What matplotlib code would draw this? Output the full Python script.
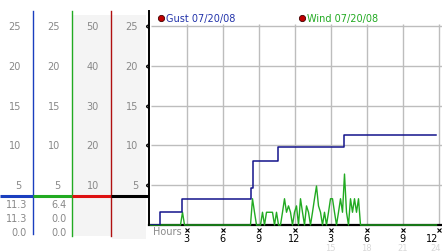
import numpy as np
import matplotlib
matplotlib.use("Agg")
import matplotlib.pyplot as plt
from matplotlib.patches import Rectangle

# ---------------- data ----------------
gust_hours = [0, 0.75, 2.6, 8.4, 8.55, 10.6, 16.1, 23.8]
gust_values = [0, 1.6, 3.3, 4.6, 8.1, 9.8, 11.3, 11.3]

wind_step = 1 / 6  # hours between wind samples
wind_values = (
    [0] * 16 + [1.6] + [0] * 34 +
    [3.3, 1.6, 0, 0, 0, 1.6, 0, 1.6, 1.6, 1.6, 1.6, 0, 1.6, 0, 0, 1.6,
     3.3, 1.6, 2.4, 1.6, 0, 1.6, 2.4, 0, 3.3, 1.6, 0, 2.4, 1.6, 0, 1.6,
     3.3, 4.9, 2.4, 1.6, 0, 1.6, 0, 1.6, 3.3, 3.3, 1.6, 0, 1.6, 3.3, 1.6,
     6.4, 1.6, 0, 3.3, 1.6, 3.3, 1.6, 3.3] +
    [0] * 39
)
wind_hours = [i * wind_step for i in range(len(wind_values))]

x_ticks = [3, 6, 9, 12, 15, 18, 21, 24]
x_tick_labels = ["3", "6", "9", "12", "3", "6", "9", "12"]
x_sub_ticks = [15, 18, 21, 24]
x_sub_labels = ["15", "18", "21", "24"]
y_ticks = [5, 10, 15, 20, 25]
scale_gust = ["5", "10", "15", "20", "25"]
scale_wind = ["5", "10", "15", "20", "25"]
scale_third = ["10", "20", "30", "40", "50"]
scale_main = ["5", "10", "15", "20", "25"]
gust_readouts = ["11.3", "11.3", "0.0"]
wind_readouts = ["6.4", "0.0", "0.0"]
legend_labels = ["Gust 07/20/08", "Wind 07/20/08"]
marker_level = 3.6

# ---------------- layout ----------------
W, H = 442, 253
PXU = 7.96  # pixels per unit on the y scale
X0 = 150.5  # pixel column of hour 0
fig = plt.figure(figsize=(W / 100, H / 100), dpi=100)
fig.patch.set_facecolor("white")

def fr(x0, y0, x1, y1):
    return [x0 / W, 1 - y1 / H, (x1 - x0) / W, (y1 - y0) / H]

def yv(py):  # pixel row -> data value
    return (226 - py) / PXU

def xv(px):  # pixel column -> hours
    return (px - X0) / 12

YTOP = yv(12)

# main axes
ax = fig.add_axes(fr(149, 12, 442, 226))
ax.set_xlim(xv(149), xv(442))
ax.set_ylim(0, YTOP)
ax.set_facecolor("white")
for s in ["top", "right"]:
    ax.spines[s].set_visible(False)
ax.spines["left"].set_color("black")
ax.spines["left"].set_linewidth(1.4)
ax.spines["bottom"].set_color("black")
ax.spines["bottom"].set_linewidth(1.6)
ax.set_yticks([])
ax.set_xticks(x_ticks, x_tick_labels, fontsize=7, color="black")
ax.tick_params(axis="x", length=0, pad=5.5)
ax.get_xticklabels()[-1].set_horizontalalignment("right")
ax.get_xticklabels()[-1].set_x(24.25)

grid_c = "#bdbdbd"
ax.hlines(y_ticks, 0, xv(442), colors=grid_c, lw=1, zorder=1)
ax.vlines(x_ticks, 0, yv(25), colors=grid_c, lw=1, zorder=1)

# tick glyphs
ax.plot([xv(146)] * len(y_ticks), y_ticks, ls="none", marker="x", ms=3,
        mew=0.8, color="black", clip_on=False, zorder=5)
ax.plot(x_ticks, [yv(230.5)] * len(x_ticks), ls="none", marker="x", ms=3,
        mew=0.8, color="black", clip_on=False, zorder=5)

for h, lab in zip(x_sub_ticks, x_sub_labels):
    last = lab == x_sub_labels[-1]
    ax.text(xv(441) if last else h, yv(248.5), lab, fontsize=6,
            color="#d8d8d8", ha="right" if last else "center",
            va="center", clip_on=False)
ax.text(xv(153), yv(232), "Hours", fontsize=7, color="#8a8a8a", ha="left",
        va="center", clip_on=False)

# series
ax.plot(wind_hours, wind_values, color="#22aa22", lw=1, zorder=3,
        clip_on=False)
ax.plot(gust_hours, gust_values, color="#14148c", lw=1.1,
        drawstyle="steps-post", zorder=4)

# legend
ax.plot([xv(161), xv(302)], [yv(19.5)] * 2, ls="none", marker="o", ms=4.5,
        mfc="#c00000", mec="#400000", mew=0.6, clip_on=False, zorder=6)
ax.text(xv(166), yv(19.5), legend_labels[0], fontsize=7, color="#2233aa",
        ha="left", va="center", clip_on=False)
ax.text(xv(307), yv(19.5), legend_labels[1], fontsize=7, color="#22aa22",
        ha="left", va="center", clip_on=False)

# left scale panel
axl = fig.add_axes(fr(0, 12, 149, 226))
axl.set_xlim(0, 149)
axl.set_ylim(0, YTOP)
axl.axis("off")

axl.add_patch(Rectangle((72, yv(237)), 39, yv(16) - yv(237),
                        facecolor="#f4f4f4", edgecolor="none",
                        clip_on=False, zorder=0))
axl.add_patch(Rectangle((112, yv(240)), 34, yv(16) - yv(240),
                        facecolor="#f4f4f4", edgecolor="none",
                        clip_on=False, zorder=0))

cols = [(33, "#1a3fbf", 235), (72, "#22aa22", 237), (111, "#b01010", 237)]
for x, c, bot in cols:
    axl.plot([x, x], [YTOP, yv(bot)], color=c, lw=1, clip_on=False, zorder=2)

seg = [(0, 33, "#1a3fbf"), (33, 72, "#22aa22"), (72, 111, "#dd1111"),
       (111, 149, "black")]
for x0, x1, c in seg:
    axl.plot([x0, x1], [marker_level] * 2, color=c, lw=2.2,
             solid_capstyle="butt", clip_on=False, zorder=3)

lab_c = "#888888"
for labels, xr in [(scale_gust, 21), (scale_wind, 60), (scale_third, 99),
                   (scale_main, 138)]:
    for y, lab in zip(y_ticks, labels):
        axl.text(xr, y, lab, fontsize=7, color=lab_c, ha="right",
                 va="center", clip_on=False)

rows = [yv(205), yv(219), yv(233)]
for y, lab in zip(rows, gust_readouts):
    axl.text(27, y, lab, fontsize=7, color=lab_c, ha="right", va="center",
             clip_on=False)
for y, lab in zip(rows, wind_readouts):
    axl.text(67, y, lab, fontsize=7, color=lab_c, ha="right", va="center",
             clip_on=False)

fig.savefig("out.png", dpi=100, facecolor="white")
